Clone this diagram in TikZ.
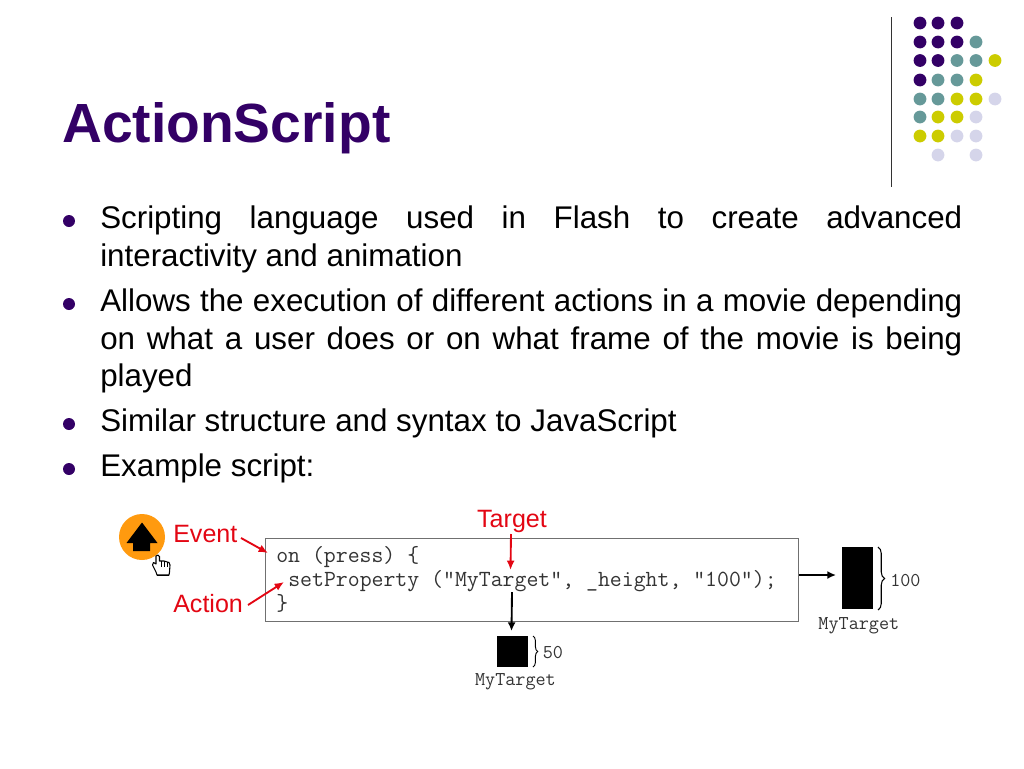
\documentclass[tikz,border=0pt]{standalone}
\usepackage{fontspec}
\setmainfont{Liberation Sans}
\usetikzlibrary{positioning,arrows.meta,decorations.pathreplacing}
\definecolor{titlepurple}{HTML}{330066}
\definecolor{dotteal}{HTML}{669999}
\definecolor{dotyellow}{HTML}{CCCC00}
\definecolor{dotlilac}{HTML}{D5D5EA}
\definecolor{labelred}{HTML}{E30613}
\definecolor{btnorange}{HTML}{FF9A0F}
\definecolor{codegray}{HTML}{333333}
\hyphenpenalty=10000
\exhyphenpenalty=10000
\tikzset{
    dot/.style={circle,inner sep=0pt,minimum size=9.6pt,fill=#1},
    bulletmark/.style={circle,inner sep=0pt,minimum size=9pt,fill=titlepurple},
    bullettext/.style={anchor=north west,inner sep=0pt,text width=646.5pt,align=justify,
        font=\fontsize{23.5}{28.1}\selectfont},
    redlabel/.style={text=labelred,inner sep=0pt,font=\fontsize{18.8}{22}\selectfont},
    redarrow/.style={draw=labelred,line width=1.4pt,-{Latex[length=7pt,width=6pt]}},
    blackarrow/.style={draw=black,line width=1.4pt,-{Latex[length=6.5pt,width=6pt]}},
    codeline/.style={anchor=base west,inner sep=0pt,text=codegray,font=\fontsize{17.35}{20}\ttfamily},
    monolabel/.style={text=codegray,inner sep=0pt,font=\fontsize{14.7}{17}\ttfamily},
    targetbox/.style={fill=black,inner sep=0pt}
}

\begin{document}
\hyphenpenalty=10000
\exhyphenpenalty=10000
\begin{tikzpicture}[x=0.75pt,y=-0.75pt]
\useasboundingbox (0,0) rectangle (1024,768);

\node[anchor=base west,inner sep=0pt,text=titlepurple,font=\fontsize{41.4}{48}\bfseries\selectfont] (title) at (62,142) {ActionScript};

% dots in the corner
\draw[codegray,line width=1.1pt] (891.5,17) coordinate (ruletop) -- (891.5,187) coordinate (rulebottom);
\foreach \x/\y/\c in {920/23/titlepurple,938/23/titlepurple,957/23/titlepurple,
    920/42/titlepurple,938/42/titlepurple,957/42/titlepurple,976/42/dotteal,
    920/60.5/titlepurple,938/60.5/titlepurple,957/60.5/dotteal,976/60.5/dotteal,995/60.5/dotyellow,
    920/80/titlepurple,938/80/dotteal,957/80/dotteal,976/80/dotyellow,
    920/99/dotteal,938/99/dotteal,957/99/dotyellow,976/99/dotyellow,995/99/dotlilac,
    920/117/dotteal,938/117/dotyellow,957/117/dotyellow,976/117/dotlilac,
    920/136/dotyellow,938/136/dotyellow,957/136/dotlilac,976/136/dotlilac,
    938/155/dotlilac,976/155/dotlilac}
    \node[dot=\c] at (\x,\y) {};

% bullets
\node[bulletmark] (b1) at (69,221) {};
\node[bulletmark] (b2) at (69,304) {};
\node[bulletmark] (b3) at (69,424) {};
\node[bulletmark] (b4) at (69,469) {};
\node[bullettext] (t1) at (100,206) {Scripting language used in Flash to create advanced interactivity and animation};
\node[bullettext] (t2) at (100,289) {Allows the execution of different actions in a movie depending on what a user does or on what frame of the movie is being played};
\node[bullettext] (t3) at (100,409) {Similar structure and syntax to JavaScript};
\node[bullettext] (t4) at (100,454) {Example script:};

% button
\node[circle,fill=btnorange,inner sep=0pt,minimum size=34.5pt] (button) at (142,537) {};
\fill[black] (142,522.5) -- (157.5,543) -- (150,543) -- (150,551) -- (133,551) -- (133,543) -- (126.5,543) -- cycle;
\draw[black,fill=white,line width=0.8pt,line join=round]
    (156,572) -- (152.5,565) -- (153.5,562.5) -- (156,564) -- (156,556) -- (158,555) -- (159.5,556.5)
    -- (159.5,561) -- (164,561) -- (169,562.5) -- (170,565) -- (169.5,572) -- (169,575) -- (157,575) -- cycle;
\draw[black,line width=1.4pt] (157,575.5) -- (169,575.5);
\draw[black,line width=0.4pt] (161.5,561) -- (161.5,567) (164.5,561) -- (164.5,567) (167,562) -- (167,567);

% code box
\node[draw=codegray!70,line width=0.6pt,inner sep=0pt,minimum width=399.75pt,minimum height=62.25pt] (code) at (531.5,579.5) {};
\node[codeline] (line1) at (276,562) {on (press) \{};
\node[codeline] (line2) at (288,586) {setProperty ("MyTarget", \_height, "100");};
\node[codeline] (line3) at (276,610) {\}};

% labels
\node[redlabel,anchor=base west] (event) at (173,542) {Event};
\node[redlabel,anchor=base west] (action) at (173,612) {Action};
\node[redlabel,anchor=base] (target) at (512,527) {Target};
\coordinate (eventtip) at (268,553);
\coordinate (actiontip) at (284,582);
\coordinate (targettip) at (510.5,570);
\draw[redarrow] (241,538) coordinate (eventstart) -- (eventtip);
\draw[redarrow] (248,605) coordinate (actionstart) -- (actiontip);
\draw[redarrow] (511,534) coordinate (targetstart) -- (targettip);

% results
\node[targetbox,minimum width=23.25pt,minimum height=46pt] (tall) at (857.5,578) {};
\node[targetbox,minimum width=23.25pt,minimum height=23.25pt] (short) at (512.5,651.5) {};
\node[monolabel,below=6pt of tall,xshift=1pt] (talllabel) {MyTarget};
\node[monolabel,below=4.5pt of short,xshift=2.2pt] (shortlabel) {MyTarget};
\draw[decorate,decoration={brace,amplitude=4.9pt},black,line width=0.8pt] (878,547) -- (878,610) coordinate[midway,xshift=9pt] (tallbrace);
\draw[decorate,decoration={brace,amplitude=3.6pt},black,line width=0.7pt] (533,636) -- (533,667) coordinate[midway,xshift=9pt] (shortbrace);
\node[monolabel,anchor=west] at (890,580.5) {100};
\node[monolabel,anchor=west] at (542.5,652.5) {50};
\coordinate (tallstart) at (799,575);
\coordinate (talltip) at (836,575);
\coordinate (shortstart) at (512,592);
\coordinate (shorttip) at (511.5,631);
\draw[blackarrow] (tallstart) -- (talltip);
\draw[blackarrow] (shortstart) -- (shorttip);
\end{tikzpicture}
\end{document}
